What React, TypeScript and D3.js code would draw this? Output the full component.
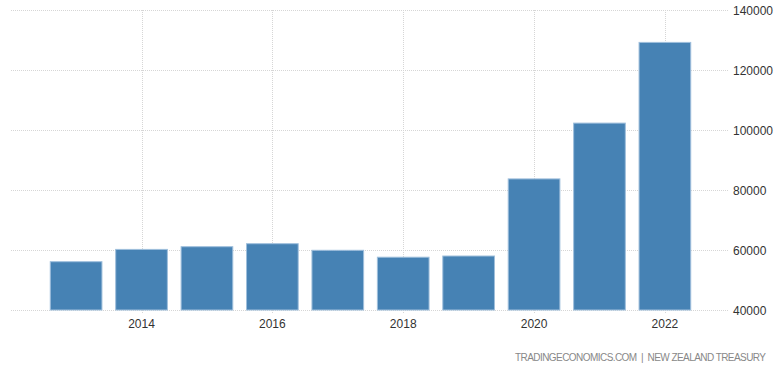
import React from "react";
import * as d3 from "d3";

const years = [2013, 2014, 2015, 2016, 2017, 2018, 2019, 2020, 2021, 2022];
const values = [56100, 60200, 61100, 62100, 59900, 57600, 58000, 83700, 102300, 129200];
const xTicks = [2014, 2016, 2018, 2020, 2022];
const yTicks = [40000, 60000, 80000, 100000, 120000, 140000];
const sourceText = "TRADINGECONOMICS.COM  |  NEW ZEALAND TREASURY";

const W = 780;
const H = 377;

export default function App() {
  const x = d3.scaleLinear().domain([2013, 2022]).range([76.1, 664.9]);
  const step = x(2014) - x(2013);
  const bw = step * 0.79;
  const y = d3.scaleLinear().domain([40000, 140000]).range([310, 10]);
  const font = "'Liberation Sans', Arial, sans-serif";
  return (
    <svg
      width={W}
      height={H}
      style={{ position: "absolute", left: 0, top: 0, background: "#fff" }}
      fontFamily={font}
    >
      {yTicks.map((t) => (
        <line
          key={"gy" + t}
          x1={11}
          x2={728}
          y1={y(t) + 0.5}
          y2={y(t) + 0.5}
          stroke="#d6d6d6"
          strokeWidth={1}
          strokeDasharray="1,1"
        />
      ))}
      {xTicks.map((t) => (
        <line
          key={"gx" + t}
          x1={Math.round(x(t)) + 0.5}
          x2={Math.round(x(t)) + 0.5}
          y1={10}
          y2={314}
          stroke="#d6d6d6"
          strokeWidth={1}
          strokeDasharray="1,1"
        />
      ))}
      {years.map((yr, i) => (
        <rect
          key={yr}
          x={x(yr) - bw / 2}
          y={y(values[i])}
          width={bw}
          height={y(40000) - y(values[i])}
          fill="#4682b4"
          stroke="#9fbfdc"
          strokeWidth={1}
        />
      ))}
      {xTicks.map((t) => (
        <text
          key={"tx" + t}
          x={x(t)}
          y={328}
          textAnchor="middle"
          fontSize={12}
          fill="#333"
        >
          {t}
        </text>
      ))}
      {yTicks.map((t) => (
        <text
          key={"ty" + t}
          x={733}
          y={y(t) + 4.5}
          textAnchor="start"
          fontSize={12}
          fill="#333"
        >
          {t}
        </text>
      ))}
      <text
        x={766}
        y={361}
        textAnchor="end"
        fontSize={10}
        fill="#888"
        textLength={251}
        lengthAdjust="spacing"
        style={{ whiteSpace: "pre" }}
      >
        {sourceText}
      </text>
    </svg>
  );
}
